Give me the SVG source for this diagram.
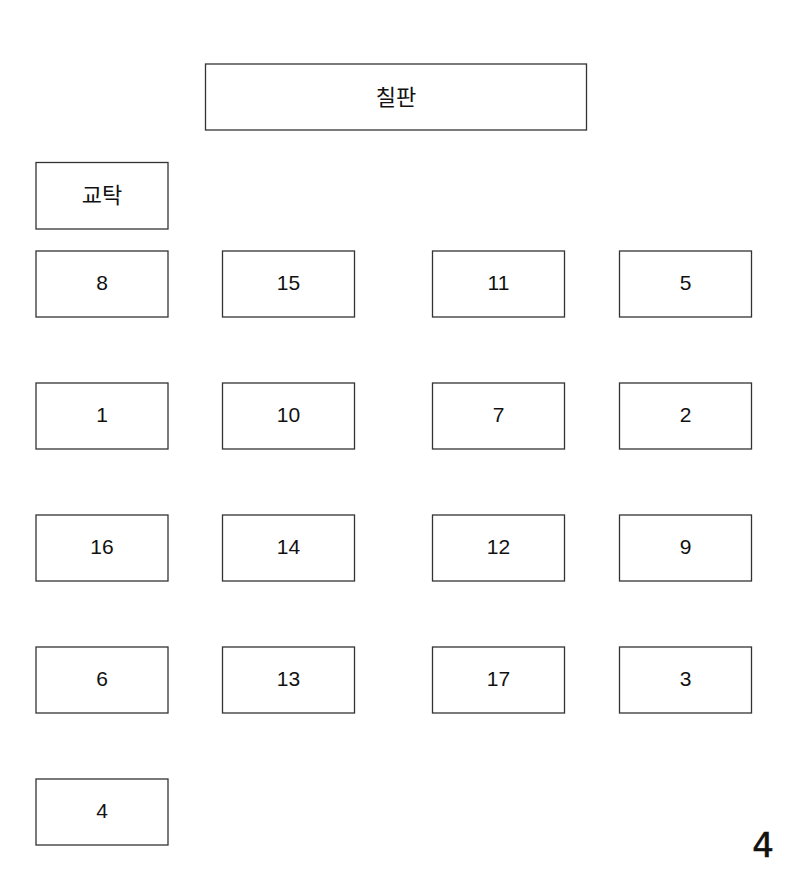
<svg xmlns="http://www.w3.org/2000/svg" width="794" height="883" viewBox="0 0 794 883">
<style>
rect.b{fill:#fff;stroke:#333;stroke-width:1.3}
text{font-family:"Liberation Sans","Noto Sans CJK KR",Arial,sans-serif;font-size:21px;fill:#111;text-anchor:middle;dominant-baseline:central}
text.k{font-family:"Noto Sans CJK KR",sans-serif;font-size:22px}
</style>
<rect width="794" height="883" fill="#fff"/>
<g id="board"><rect class="b" x="205.5" y="64" width="381" height="66"/><text class="k" x="396" y="95">칠판</text></g>
<g id="desk"><rect class="b" x="36" y="162.5" width="132" height="66.5"/><text class="k" x="102" y="193">교탁</text></g>
<g id="n8"><rect class="b" x="36" y="251" width="132" height="66"/><text x="102" y="282">8</text></g>
<g id="n15"><rect class="b" x="222.5" y="251" width="132" height="66"/><text x="288.5" y="282">15</text></g>
<g id="n11"><rect class="b" x="432.5" y="251" width="132" height="66"/><text x="498.5" y="282">11</text></g>
<g id="n5"><rect class="b" x="619.5" y="251" width="132" height="66"/><text x="685.5" y="282">5</text></g>
<g id="n1"><rect class="b" x="36" y="383" width="132" height="66"/><text x="102" y="414">1</text></g>
<g id="n10"><rect class="b" x="222.5" y="383" width="132" height="66"/><text x="288.5" y="414">10</text></g>
<g id="n7"><rect class="b" x="432.5" y="383" width="132" height="66"/><text x="498.5" y="414">7</text></g>
<g id="n2"><rect class="b" x="619.5" y="383" width="132" height="66"/><text x="685.5" y="414">2</text></g>
<g id="n16"><rect class="b" x="36" y="515" width="132" height="66"/><text x="102" y="546">16</text></g>
<g id="n14"><rect class="b" x="222.5" y="515" width="132" height="66"/><text x="288.5" y="546">14</text></g>
<g id="n12"><rect class="b" x="432.5" y="515" width="132" height="66"/><text x="498.5" y="546">12</text></g>
<g id="n9"><rect class="b" x="619.5" y="515" width="132" height="66"/><text x="685.5" y="546">9</text></g>
<g id="n6"><rect class="b" x="36" y="647" width="132" height="66"/><text x="102" y="678">6</text></g>
<g id="n13"><rect class="b" x="222.5" y="647" width="132" height="66"/><text x="288.5" y="678">13</text></g>
<g id="n17"><rect class="b" x="432.5" y="647" width="132" height="66"/><text x="498.5" y="678">17</text></g>
<g id="n3"><rect class="b" x="619.5" y="647" width="132" height="66"/><text x="685.5" y="678">3</text></g>
<g id="n4"><rect class="b" x="36" y="779" width="132" height="66"/><text x="102" y="810">4</text></g>
<g id="connectors"></g>
<text x="763" y="845" style="font-size:34px;font-family:'DejaVu Sans',sans-serif;stroke:#111;stroke-width:0.6">4</text>
</svg>
